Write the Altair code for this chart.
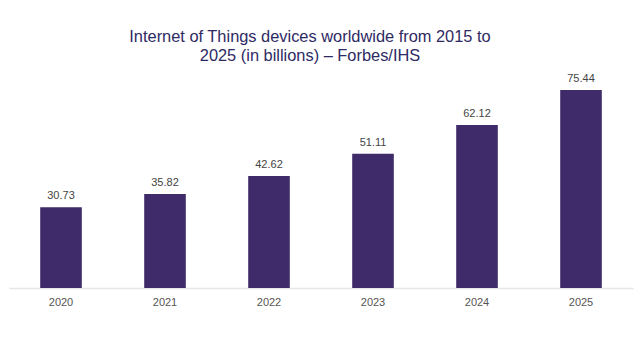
import altair as alt
import pandas as pd

years = ["2020", "2021", "2022", "2023", "2024", "2025"]
devices = [30.73, 35.82, 42.62, 51.11, 62.12, 75.44]
labels = ["30.73", "35.82", "42.62", "51.11", "62.12", "75.44"]

df = pd.DataFrame({"year": years, "devices": devices, "label": labels})

base = alt.Chart(df).encode(
    x=alt.X("year:N", sort=years,
            scale=alt.Scale(paddingInner=0.6, paddingOuter=0.3),
            axis=alt.Axis(title=None, labelAngle=0, ticks=False, domain=True,
                          domainColor="#e6e6e6", domainWidth=1.5,
                          labelFont="Liberation Sans", labelFontSize=11,
                          labelColor="#555555", labelPadding=8)),
    y=alt.Y("devices:Q", scale=alt.Scale(domain=[0, 80], nice=False),
            axis=None),
)

bars = base.mark_bar(color="#3f2a6a")
text = base.mark_text(baseline="bottom", dy=-6, font="Liberation Sans",
                      fontSize=11, color="#444444").encode(text="label:N")

chart = (bars + text).properties(
    width=624, height=210,
    title=alt.TitleParams(
        ["Internet of Things devices worldwide from 2015 to",
         "2025 (in billions) – Forbes/IHS"],
        font="Liberation Sans", fontSize=16.4, fontWeight="normal",
        color="#2e2a63", anchor="middle", lineHeight=19, offset=9, dx=-11,
    ),
).configure_view(stroke=None).properties(
    autosize=alt.AutoSizeParams(type="none"),
    padding={"left": 9, "top": 78, "right": 6, "bottom": 52},
)

chart.save("out.html", embed_options={"renderer": "svg", "actions": False})
